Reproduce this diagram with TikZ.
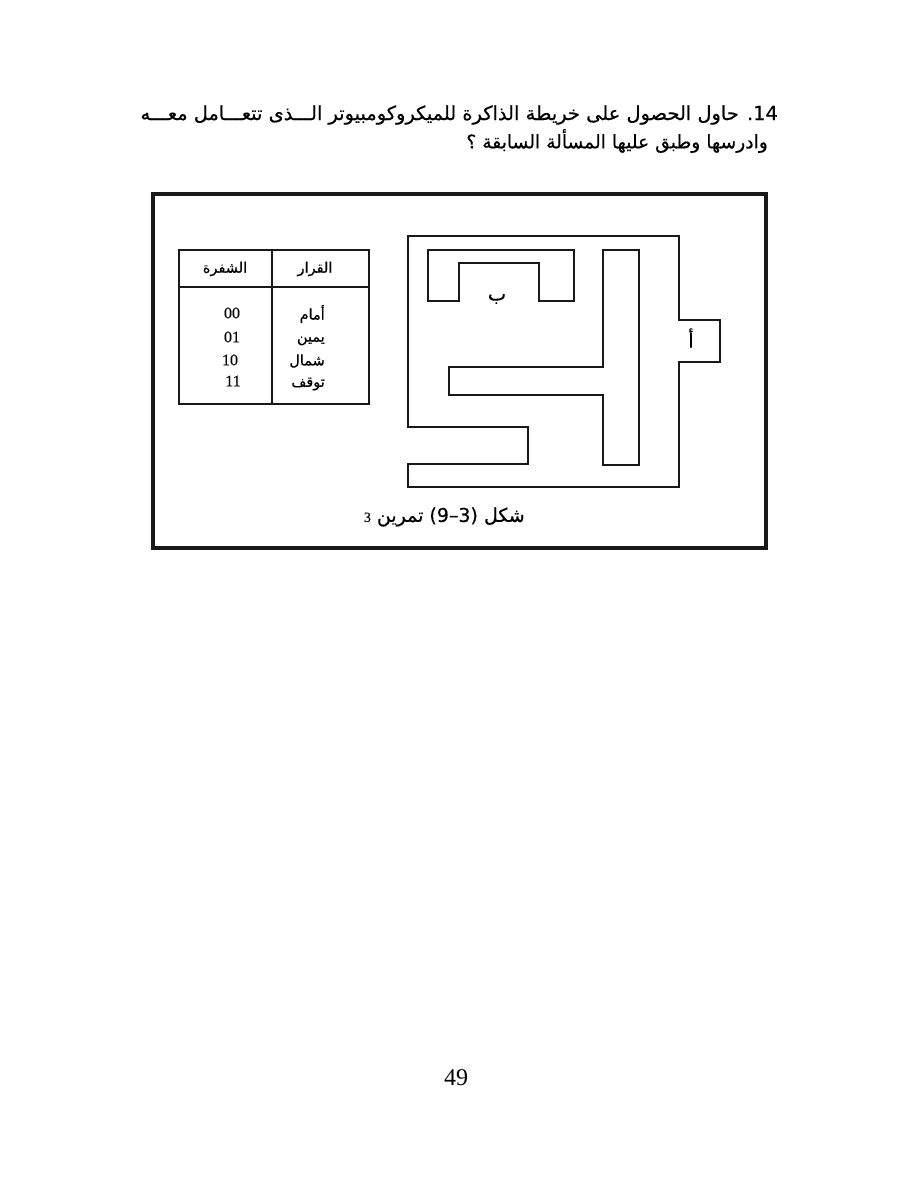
\documentclass[tikz,border=0pt]{standalone}
\usepackage{fontspec}
\setmainfont{Liberation Serif}
\newfontfamily\arabicfont[Script=Arabic,FakeBold=0.4]{DejaVu Sans}
\newfontfamily\digitfont[FakeBold=0.3]{Liberation Serif}
\TeXXeTstate=1
\tikzset{
    wall/.style={line width=1.3pt, color=black!90},
    bodytext/.style={inner sep=0pt, font=\arabicfont\fontsize{19.4}{22}\selectfont},
    cell/.style={inner sep=0pt, font=\arabicfont\fontsize{14.5}{16}\selectfont},
    digits/.style={inner sep=0pt, font=\digitfont\fontsize{16}{18}\selectfont}
}
\begin{document}
\begin{tikzpicture}[x=1pt, y=-1pt]
    \useasboundingbox (0, 0) rectangle (918, 1188);
    \fill[white] (0, 0) rectangle (918, 1188);

    % question
    \node[bodytext, anchor=east] (line1) at (778, 115) {\beginR\beginL 14\endL. حاول الحصول على خريطة الذاكرة للميكروكومبيوتر الـــذى تتعـــامل معـــه\endR};
    \node[bodytext, anchor=east, font=\arabicfont\fontsize{18.7}{22}\selectfont] (line2) at (768, 141) {\beginR وادرسها وطبق عليها المسألة السابقة ؟\endR};

    % frame
    \draw[line width=3.2pt, color=black!90] (153, 194) rectangle (766, 548);

    % table
    \draw[wall] (179, 250) rectangle (369, 404);
    \draw[wall] (272, 250) -- (272, 404);
    \draw[wall] (179, 287) -- (369, 287);
    \node[cell] (decision) at (315, 269) {\beginR القرار\endR};
    \node[cell] (code) at (225, 269) {\beginR الشفرة\endR};
    \node[cell, anchor=east] (front) at (325, 314) {\beginR أمام\endR};
    \node[cell, anchor=east] (right) at (325, 341) {\beginR يمين\endR};
    \node[cell, anchor=east] (left) at (325, 361) {\beginR شمال\endR};
    \node[cell, anchor=east] (stop) at (325, 384) {\beginR توقف\endR};
    \node[digits] (c00) at (232, 313) {00};
    \node[digits] (c01) at (232, 337) {01};
    \node[digits] (c10) at (230, 360) {10};
    \node[digits] (c11) at (233, 381) {11};

    % maze
    \draw[wall] (408, 236) -- (679, 236) -- (679, 320) -- (720, 320) -- (720, 362)
        -- (679, 362) -- (679, 487) -- (408, 487) -- (408, 464) -- (528, 464)
        -- (528, 427) -- (408, 427) -- cycle;
    \draw[wall] (428, 250) -- (574, 250) -- (574, 301) -- (539, 301) -- (539, 263)
        -- (459, 263) -- (459, 301) -- (428, 301) -- cycle;
    \draw[wall] (603, 250) -- (639, 250) -- (639, 465) -- (603, 465) -- (603, 395)
        -- (449, 395) -- (449, 367) -- (603, 367) -- cycle;
    \node[bodytext] (goal) at (497, 299) {\beginR ب\endR};
    \node[bodytext] (start) at (691, 338) {\beginR أ\endR};

    % caption
    \node[bodytext, anchor=east, font=\arabicfont\fontsize{19}{22}\selectfont] (caption) at (525, 517) {\beginR شكل (\beginL 3–9\endL) تمرين {\digitfont\fontsize{14}{16}\selectfont 3}\endR};

    % page number
    \node[inner sep=0pt, font=\fontsize{24}{28}\selectfont] (page) at (456, 1078) {49};
\end{tikzpicture}
\end{document}
